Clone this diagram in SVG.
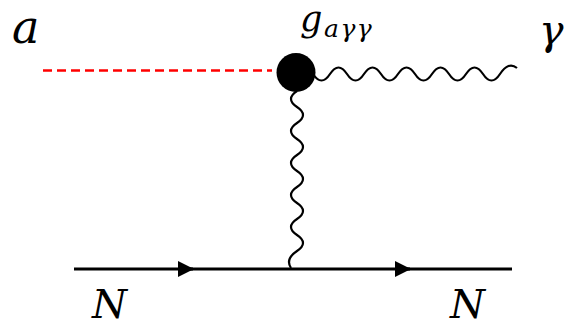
<svg xmlns="http://www.w3.org/2000/svg" width="565" height="329" viewBox="0 0 565 329">
<style>
.lbl{font-family:"DejaVu Serif","Liberation Serif",serif;font-style:italic;fill:#000}
.wave{fill:none;stroke:#000;stroke-width:2.2}
.ferm{fill:none;stroke:#000;stroke-width:2.8}
</style>
<defs>
<marker id="arr" markerWidth="16" markerHeight="16" refX="15" refY="8" orient="auto" markerUnits="userSpaceOnUse">
<path d="M0,0 L16,8 L0,16 Z" fill="#000"/>
</marker>
</defs>
<rect width="565" height="329" fill="#fff"/>
<g id="connectors">
<line id="axion" x1="43" y1="70.5" x2="272" y2="70.5" stroke="#ff0000" stroke-width="2.5" stroke-dasharray="9,5"/>
<path id="photon-out" class="wave" d="M313,74 q8.5,13 17,0 q8.5,-13 17,0 q8.5,13 17,0 q8.5,-13 17,0 q8.5,13 17,0 q8.5,-13 17,0 q8.5,13 17,0 q8.5,-13 17,0 q8.5,13 17,0 q8.5,-13 17,0 q8.5,13 17,0 q8.5,-13 17,-6"/>
<path id="photon-virtual" class="wave" d="M297,91 q-12,8 0,16 q12,8 0,16 q-12,8 0,16 q12,8 0,16 q-12,8 0,16 q12,8 0,16 q-12,8 0,16 q12,8 0,16 q-12,8 0,16 q12,8 0,16 q-12,8 -6,17"/>
<path id="nucleon-in" class="ferm" d="M74,269 L193,269" marker-end="url(#arr)"/>
<path id="nucleon-mid" class="ferm" d="M190,269 L410,269" marker-end="url(#arr)"/>
<path id="nucleon-out" class="ferm" d="M405,269 L512,269"/>
</g>
<g id="vertex"><circle cx="296" cy="72.5" r="19.5" fill="#000"/></g>
<g id="label-a"><text class="lbl" x="12" y="43" font-size="46">a</text></g>
<g id="label-g"><text class="lbl" x="300" y="31" font-size="35">g</text><text class="lbl" x="324" y="37" font-size="25" letter-spacing="1.5">aγγ</text></g>
<g id="label-gamma"><text class="lbl" x="539" y="44" font-size="41">γ</text></g>
<g id="label-N1"><text class="lbl" x="92" y="318" font-size="40">N</text></g>
<g id="label-N2"><text class="lbl" x="450" y="318" font-size="40">N</text></g>
</svg>
